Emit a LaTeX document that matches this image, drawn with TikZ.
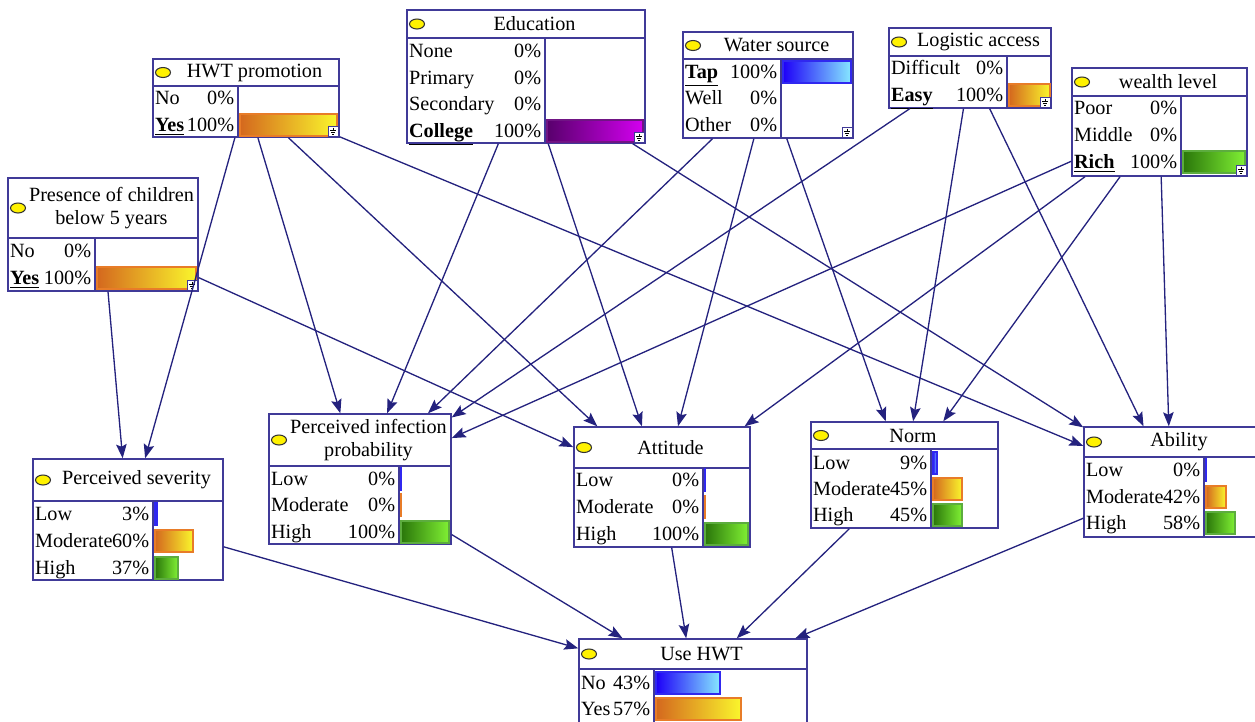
\documentclass[tikz,border=0pt]{standalone}
\usepackage{fontspec}
\setmainfont{Liberation Serif}
\usetikzlibrary{arrows.meta,fit,shapes.geometric}

\definecolor{navy}{RGB}{36,34,126}
\definecolor{frame}{RGB}{64,58,152}
\definecolor{orangeA}{RGB}{212,104,30}
\definecolor{orangeB}{RGB}{250,246,44}
\definecolor{orangeL}{RGB}{232,124,40}
\definecolor{blueA}{RGB}{30,0,248}
\definecolor{blueB}{RGB}{134,232,255}
\definecolor{blueL}{RGB}{48,40,240}
\definecolor{greenA}{RGB}{42,118,10}
\definecolor{greenB}{RGB}{128,240,52}
\definecolor{greenL}{RGB}{92,172,62}
\definecolor{purpleA}{RGB}{88,0,108}
\definecolor{purpleB}{RGB}{212,0,240}
\definecolor{purpleL}{RGB}{112,20,132}

\tikzset{
  box/.style={draw=frame, line width=0.8pt, inner sep=0pt, fill=white},
  sep/.style={draw=frame, line width=0.8pt},
  lamp/.style={ellipse, draw=black!80, fill=yellow, line width=0.6pt,
    minimum width=0.3cm, minimum height=0.2cm, inner sep=0pt},
  title/.style={font=\fontsize{11.5}{13}\selectfont, align=center, inner sep=0pt},
  state/.style={font=\fontsize{11.5}{13}\selectfont, text height=7.6pt, text depth=0pt,
    inner xsep=1pt, inner ysep=0pt},
  orangebar/.style={left color=orangeA, right color=orangeB, draw=orangeL, line width=0.6pt},
  bluebar/.style={left color=blueA, right color=blueB, draw=blueL, line width=0.6pt},
  greenbar/.style={left color=greenA, right color=greenB, draw=greenL, line width=0.6pt},
  purplebar/.style={left color=purpleA, right color=purpleB, draw=purpleL, line width=0.6pt},
  link/.style={->, draw=navy, line width=0.75pt},
}

% name, x0, y0, x1, y title line, x divider, y1, title
\newcommand\bnbox[8]{%
  \node[box, fit={(#2,#3) (#4,#7)}] (#1) {};
  \draw[sep] (#2,#5) -- (#4,#5) (#6,#5) -- (#6,#7);
  \node[lamp] (#1e) at ({#2+10},{(#3+#5)/2}) {};
  \node[title] (#1t) at ({(#2+17+#4)/2},{(#3+#5)/2}) {#8};
}
% name, x0, x divider, y, state, percent
\newcommand\bnrow[6]{%
  \node[state, anchor=west] (#1l) at (#2,#4) {#5};
  \node[state, anchor=east, inner xsep=2pt] (#1p) at (#3,#4) {#6};
}
\newcommand\bnbar[4]{\shade[#1] ({#2+2},{#3-11}) rectangle ({#2+2+#4},{#3+11});}
\newcommand\evid[2]{%
  \draw[draw=frame, fill=white, line width=0.4pt] ({#1-10},{#2-10}) rectangle (#1,#2);
  \draw[line width=0.35pt] ({#1-5},{#2-8.5}) -- ({#1-5},{#2-6})
    ({#1-8},{#2-6}) -- ({#1-2},{#2-6}) ({#1-7},{#2-4}) -- ({#1-3},{#2-4})
    ({#1-6},{#2-2}) -- ({#1-4},{#2-2});
}
\newcommand\chosen[1]{\underline{\textbf{#1}}}

\begin{document}
\begin{tikzpicture}[x=0.02cm, y=-0.02cm, >={Stealth[length=8pt,width=6pt,inset=1.4pt]}]
\useasboundingbox (0,0) rectangle (1255,721);
\clip (0,0) rectangle (1255,721);

\bnbox{A}{8}{178}{198}{238}{95}{291}{Presence of children\\below 5 years}
\bnrow{A1}{8}{95}{251}{No}{0\%}
\bnrow{A2}{8}{95}{278}{\chosen{Yes}}{100\%}
\bnbar{orangebar}{95}{278}{99}
\evid{197}{290}

\bnbox{B1}{153}{59}{339}{86}{238}{137}{HWT promotion}
\bnrow{B11}{153}{238}{98}{No}{0\%}
\bnrow{B12}{153}{238}{125}{\chosen{Yes}}{100\%}
\bnbar{orangebar}{238}{125}{97}
\evid{338}{136}

\bnbox{B2}{407}{10}{645}{38}{545}{143}{Education}
\bnrow{B21}{407}{545}{51}{None}{0\%}
\bnrow{B22}{407}{545}{78}{Primary}{0\%}
\bnrow{B23}{407}{545}{104}{Secondary}{0\%}
\bnrow{B24}{407}{545}{131}{\chosen{College}}{100\%}
\bnbar{purplebar}{545}{131}{96}
\evid{644}{142}

\bnbox{B3}{683}{32}{853}{59}{781}{138}{Water source}
\bnrow{B31}{683}{781}{72}{\chosen{Tap}}{100\%}
\bnrow{B32}{683}{781}{98}{Well}{0\%}
\bnrow{B33}{683}{781}{125}{Other}{0\%}
\bnbar{bluebar}{781}{72}{68}
\evid{852}{137}

\bnbox{B4}{889}{28}{1051}{56}{1007}{108}{Logistic access}
\bnrow{B41}{889}{1007}{68}{Difficult}{0\%}
\bnrow{B42}{889}{1007}{95}{\chosen{Easy}}{100\%}
\bnbar{orangebar}{1007}{95}{41}
\evid{1050}{107}

\bnbox{B5}{1072}{68}{1247}{96}{1181}{176}{wealth level}
\bnrow{B51}{1072}{1181}{108}{Poor}{0\%}
\bnrow{B52}{1072}{1181}{135}{Middle}{0\%}
\bnrow{B53}{1072}{1181}{162}{\chosen{Rich}}{100\%}
\bnbar{greenbar}{1181}{162}{62}
\evid{1246}{175}

\bnbox{C1}{33}{459}{223}{501}{153}{580}{Perceived severity}
\bnrow{C11}{33}{153}{514}{Low}{3\%}
\bnrow{C12}{33}{153}{541}{Moderate}{60\%}
\bnrow{C13}{33}{153}{568}{High}{37\%}
\bnbar{bluebar}{153}{514}{2}
\bnbar{orangebar}{153}{541}{38}
\bnbar{greenbar}{153}{568}{23}

\bnbox{C2}{269}{414}{451}{466}{399}{544}{Perceived infection\\probability}
\bnrow{C21}{269}{399}{479}{Low}{0\%}
\bnrow{C22}{269}{399}{505}{Moderate}{0\%}
\bnrow{C23}{269}{399}{532}{High}{100\%}
\bnbar{bluebar}{399}{479}{0.6}
\bnbar{orangebar}{399}{505}{0.6}
\bnbar{greenbar}{399}{532}{48}

\bnbox{C3}{574}{427}{750}{468}{703}{547}{Attitude}
\bnrow{C31}{574}{703}{480}{Low}{0\%}
\bnrow{C32}{574}{703}{507}{Moderate}{0\%}
\bnrow{C33}{574}{703}{534}{High}{100\%}
\bnbar{bluebar}{703}{480}{0.6}
\bnbar{orangebar}{703}{507}{0.6}
\bnbar{greenbar}{703}{534}{43}

\bnbox{C4}{811}{422}{998}{449}{931}{528}{Norm}
\bnrow{C41}{811}{931}{463}{Low}{9\%}
\bnrow{C42}{811}{931}{489}{Moderate}{45\%}
\bnrow{C43}{811}{931}{515}{High}{45\%}
\bnbar{bluebar}{931}{463}{4}
\bnbar{orangebar}{931}{489}{29}
\bnbar{greenbar}{931}{515}{29}

\bnbox{C5}{1084}{427}{1257}{457}{1204}{537}{Ability}
\bnrow{C51}{1084}{1204}{470}{Low}{0\%}
\bnrow{C52}{1084}{1204}{497}{Moderate}{42\%}
\bnrow{C53}{1084}{1204}{523}{High}{58\%}
\bnbar{bluebar}{1204}{470}{0.6}
\bnbar{orangebar}{1204}{497}{20}
\bnbar{greenbar}{1204}{523}{29}

\bnbox{D}{579}{639}{807}{669}{654}{723}{Use HWT}
\bnrow{D1}{579}{654}{683}{No}{43\%}
\bnrow{D2}{579}{654}{709}{Yes}{57\%}
\bnbar{bluebar}{654}{683}{64}
\bnbar{orangebar}{654}{709}{85}

\draw[link] (A)--(C1);
\draw[link] (A)--(C3);

\draw[link] (B1)--(C1);
\draw[link] (B1)--(C2);
\draw[link] (B1)--(C3);
\draw[link] (B1)--(C5);

\draw[link] (B2)--(C2);
\draw[link] (B2)--(C3);
\draw[link] (B2)--(C5);

\draw[link] (B3)--(C2);
\draw[link] (B3)--(C3);
\draw[link] (B3)--(C4);

\draw[link] (B4)--(C2);
\draw[link] (B4)--(C4);
\draw[link] (B4)--(C5);

\draw[link] (B5)--(C2);
\draw[link] (B5)--(C3);
\draw[link] (B5)--(C4);
\draw[link] (B5)--(C5);

\draw[link] (C1)--(D);
\draw[link] (C2)--(D);
\draw[link] (C3)--(D);
\draw[link] (C4)--(D);
\draw[link] (C5)--(D);
\end{tikzpicture}
\end{document}
